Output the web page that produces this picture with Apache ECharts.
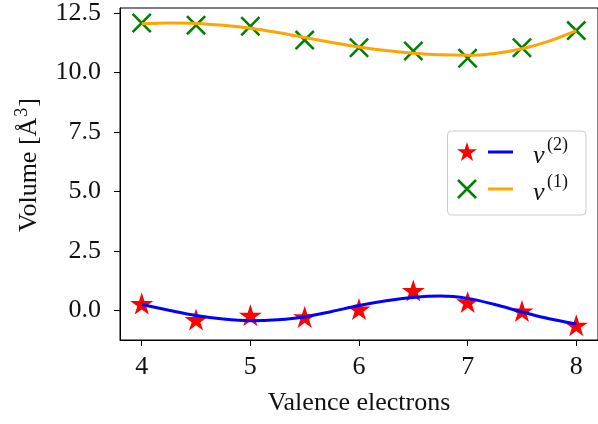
<!DOCTYPE html>
<html>
<head>
<meta charset="utf-8">
<script src="https://cdn.jsdelivr.net/npm/echarts@6/dist/echarts.min.js"></script>
<style>
html,body{margin:0;padding:0;background:#fff;}
#chart{width:598px;height:424px;}
</style>
</head>
<body>
<div id="chart"></div>
<script>
// ---- data ----
const xValues = [4, 4.5, 5, 5.5, 6, 6.5, 7, 7.5, 8];
const v2Points = [0.28, -0.39, -0.21, -0.28, 0.05, 0.83, 0.35, -0.03, -0.63];
const v1Points = [12.08, 11.99, 11.94, 11.36, 11.04, 10.90, 10.60, 11.04, 11.76];
const fitX = [4, 4.25, 4.5, 4.75, 5, 5.25, 5.5, 5.75, 6, 6.25, 6.5, 6.75, 7, 7.25, 7.5, 7.75, 8];
const v2Fit = [0.24, 0.00, -0.22, -0.37, -0.44, -0.40, -0.28, -0.05, 0.20, 0.40, 0.54, 0.60, 0.50, 0.24, -0.07, -0.36, -0.58];
const v1Fit = [12.05, 12.08, 12.06, 11.98, 11.86, 11.68, 11.47, 11.26, 11.07, 10.92, 10.81, 10.74, 10.72, 10.80, 11.00, 11.32, 11.76];
const xTicks = [4, 5, 6, 7, 8];
const yTicks = [0, 2.5, 5, 7.5, 10, 12.5];
const xLabel = 'Valence electrons';
const yLabel = 'Volume [Å';
const yLabelSup = '3';
const yLabelEnd = ']';

const pair = (xs, ys) => xs.map((x, i) => [x, ys[i]]);

const FONT = '"Liberation Serif", "DejaVu Serif", serif';
const STAR = 'path://M50 0 L61.23 34.55 L97.55 34.55 L68.17 55.9 L79.39 90.45 L50 69.1 L20.61 90.45 L31.83 55.9 L2.45 34.55 L38.77 34.55 Z';
const XMARK = 'path://M0 9 L9 0 L50 41 L91 0 L100 9 L59 50 L100 91 L91 100 L50 59 L9 100 L0 91 L41 50 Z';

// measure text for the rotated y label
const mctx = document.createElement('canvas').getContext('2d');
mctx.font = '26px ' + FONT;
const w1 = mctx.measureText(yLabel).width;
mctx.font = '18px ' + FONT;
const w2 = mctx.measureText(yLabelSup).width;
mctx.font = '26px ' + FONT;
const w3 = mctx.measureText(yLabelEnd).width;
const totalW = w1 + w2 + 2 + w3;

function starPoints(cx, cy, R) {
  const pts = [];
  const r = R * 0.382;
  for (let k = 0; k < 10; k++) {
    const a = -Math.PI / 2 + k * Math.PI / 5;
    const rr = k % 2 === 0 ? R : r;
    pts.push([cx + rr * Math.cos(a), cy + rr * Math.sin(a)]);
  }
  return pts;
}

const chart = echarts.init(document.getElementById('chart'), null, {renderer: 'canvas'});
const option = {
  animation: false,
  backgroundColor: '#fff',
  grid: {left: 120, right: 0, top: 5, bottom: 84, show: true, borderColor: '#000', borderWidth: 1, backgroundColor: 'transparent'},
  xAxis: {
    type: 'value', min: 3.8, max: 8.2,
    axisLine: {show: true, onZero: false, lineStyle: {color: '#000', width: 1}},
    axisTick: {show: true, length: 6, lineStyle: {color: '#000', width: 1}, customValues: xTicks},
    axisLabel: {customValues: xTicks, color: '#111', fontFamily: FONT, fontSize: 26, margin: 14, formatter: v => String(v)},
    splitLine: {show: false},
    name: xLabel, nameLocation: 'middle', nameGap: 50,
    nameTextStyle: {color: '#111', fontFamily: FONT, fontSize: 26}
  },
  yAxis: {
    type: 'value', min: -1.25, max: 12.71,
    axisLine: {show: true, onZero: false, lineStyle: {color: '#000', width: 1}},
    axisTick: {show: true, length: 6, lineStyle: {color: '#000', width: 1}, customValues: yTicks},
    axisLabel: {customValues: yTicks, color: '#111', fontFamily: FONT, fontSize: 26, margin: 19, formatter: v => v.toFixed(1)},
    splitLine: {show: false}
  },
  series: [
    {type: 'scatter', data: pair(xValues, v2Points), symbol: STAR, symbolSize: [23, 22], itemStyle: {color: '#ff0000', opacity: 1}, z: 2},
    {type: 'scatter', data: pair(xValues, v1Points), symbol: XMARK, symbolSize: 20, itemStyle: {color: '#008000', opacity: 1}, z: 2},
    {type: 'line', data: pair(fitX, v2Fit), smooth: 0.35, showSymbol: false, symbol: 'none', lineStyle: {color: '#0000ff', width: 3}, z: 3},
    {type: 'line', data: pair(fitX, v1Fit), smooth: 0.35, showSymbol: false, symbol: 'none', lineStyle: {color: '#ffa500', width: 3}, z: 3}
  ],
  graphic: [
    // y axis name, rotated
    {
      type: 'group', x: 42, y: 165 + totalW / 2, rotation: Math.PI / 2,
      children: [
        {type: 'text', x: 0, y: 0, style: {text: yLabel, font: '26px ' + FONT, fill: '#111', textAlign: 'left', textVerticalAlign: 'bottom'}},
        {type: 'text', x: w1 + 1, y: -11, style: {text: yLabelSup, font: '18px ' + FONT, fill: '#111', textAlign: 'left', textVerticalAlign: 'bottom'}},
        {type: 'text', x: w1 + w2 + 2, y: 0, style: {text: yLabelEnd, font: '26px ' + FONT, fill: '#111', textAlign: 'left', textVerticalAlign: 'bottom'}}
      ]
    },
    // legend
    {type: 'rect', shape: {x: 447.5, y: 131, width: 138.5, height: 84, r: 4}, style: {fill: 'rgba(255,255,255,0.8)', stroke: '#cccccc', lineWidth: 1}, z: 10},
    {type: 'polygon', shape: {points: starPoints(467, 152.5, 10.5)}, style: {fill: '#ff0000'}, z: 11},
    {type: 'line', shape: {x1: 488, y1: 152, x2: 513, y2: 152}, style: {stroke: '#0000ff', lineWidth: 3}, z: 11},
    {type: 'text', x: 533, y: 156, style: {text: 'v', font: 'italic 26px ' + FONT, fill: '#111', textAlign: 'left', textVerticalAlign: 'middle'}, z: 11},
    {type: 'text', x: 547, y: 145, style: {text: '(2)', font: '18px ' + FONT, fill: '#111', textAlign: 'left', textVerticalAlign: 'middle'}, z: 11},
    {type: 'line', shape: {x1: 458, y1: 180, x2: 476, y2: 198}, style: {stroke: '#008000', lineWidth: 2.5}, z: 11},
    {type: 'line', shape: {x1: 458, y1: 198, x2: 476, y2: 180}, style: {stroke: '#008000', lineWidth: 2.5}, z: 11},
    {type: 'line', shape: {x1: 488, y1: 189, x2: 513, y2: 189}, style: {stroke: '#ffa500', lineWidth: 3}, z: 11},
    {type: 'text', x: 533, y: 193, style: {text: 'v', font: 'italic 26px ' + FONT, fill: '#111', textAlign: 'left', textVerticalAlign: 'middle'}, z: 11},
    {type: 'text', x: 547, y: 182, style: {text: '(1)', font: '18px ' + FONT, fill: '#111', textAlign: 'left', textVerticalAlign: 'middle'}, z: 11}
  ]
};
chart.setOption(option);
</script>
</body>
</html>
